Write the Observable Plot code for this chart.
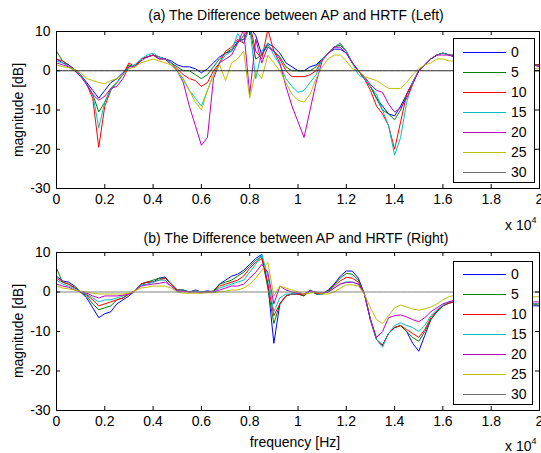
<!DOCTYPE html>
<html><head><meta charset="utf-8">
<script src="https://cdn.jsdelivr.net/npm/d3@7"></script>
<script src="https://cdn.jsdelivr.net/npm/@observablehq/plot@0.6"></script>
<style>
body{margin:0;background:#fff;}
#fig{position:relative;width:541px;height:453px;font-family:"Liberation Sans",Arial,Helvetica,sans-serif;color:#000;overflow:hidden;background:#fff;}
#fig svg{position:absolute;left:0;}
.txt{position:absolute;white-space:nowrap;font-size:14px;line-height:16px;}
.ctr{transform:translateX(-50%);}
.ylab{position:absolute;white-space:nowrap;font-size:14px;line-height:16px;transform:translate(-50%,-50%) rotate(-90deg);}
.legend{position:absolute;border:1px solid #000;background:#fff;box-sizing:border-box;}
.lrow{position:absolute;left:0;height:20px;width:100%;}
.lline{position:absolute;left:9px;width:43px;top:10px;height:1px;}
.llab{position:absolute;left:57px;top:2px;font-size:14px;line-height:16px;}
sup{font-size:9px;vertical-align:7px;line-height:0;}
</style></head><body><div id="fig"></div>
<script>
const FONT = '"Liberation Sans", Arial, Helvetica, sans-serif';

const freqHz = [0,250,500,750,1000,1250,1500,1750,2000,2250,
2500,2750,3000,3250,3500,3750,4000,4250,4500,4750,
5000,5250,5500,5750,6000,6250,6500,6750,7000,7250,
7500,7750,8000,8250,8500,8750,9000,9250,9500,9750,
10000,10250,10500,10750,11000,11250,11500,11750,12000,12250,
12500,12750,13000,13250,13500,13750,14000,14250,14500,14750,
15000,15250,15500,15750,16000,16250,16500,16750,17000,17250,
17500,17750,18000,18250,18500,18750,19000,19250,19500,19750,
20000];

const angleLabels = ["0","5","10","15","20","25","30"];
const lineColors = ["#0000ff","#008000","#ff0000","#00bfbf","#bf00bf","#bfbf00"];
const refColorLeft = "#262626";
const refColorRight = "#808080";
const legendRefColor = "#6e6e6e";

const xTickValues = [0,2000,4000,6000,8000,10000,12000,14000,16000,18000,20000];
const xTickLabels = ["0","0.2","0.4","0.6","0.8","1","1.2","1.4","1.6","1.8","2"];
const yTickValues = [-30,-20,-10,0,10];
const yTickLabels = ["-30","-20","-10","0","10"];

// (a) Left
const left0 = [3,2,1.5,0.3,-1,-3,-5,-7,-5,-3,
-2,-0.5,1,1.5,3,3.5,4,3.5,3,2.5,
1.5,1,1,0.5,-0.5,0.5,2,3.5,4.5,5,
7.5,8,11,9,4,7,6,4.5,2,1,
0,0,1,1.5,3,4.5,5.5,5.5,4.5,2,
0,-2,-4,-7,-9,-11,-11.5,-9,-6,-3,
0,1.5,3,4,4.5,4,3.5,4,3.5,3,
3,3.5,3,2.5,3,2.5,2,2,1.5,1.5,
1.5];
const left5 = [5,2.5,1.5,0.3,-1,-3.5,-6,-10.5,-8,-4.5,
-3,-1,1.5,1,3,3.5,4,3,3,2,
1,0,0,-1,-2,-1,1,3,4.5,5.5,
7,9,11,3,4,6.5,5,3.5,1,0,
0,0,0,1,3,4.5,6,6.5,5,2,
0,-2,-4,-7,-10,-11,-12.5,-10,-6,-3,
0,1.5,3,4,4.5,4,4,3.5,3.5,3,
3,3,3,3,2.5,2.5,2.5,2,2,1.5,
1.5];
const left10 = [3,2.5,1.5,0.3,-1,-3.5,-7,-19.5,-9,-5,
-3,-1,2,1,3,3.5,4,3.5,3,2,
0.5,-1,-2,-2.5,-4,-3,0,2,5,6,
8,7,12,5,3,10.5,5,3,0,-1.5,
-1.5,-1.5,-1,0,3,4.5,6,7,5,2,
0,-2,-5,-9,-11,-14,-20,-13,-6,-3,
0,1.5,3,4,4.5,4,4,3.5,3.5,3,
3,3,3,2.5,2.5,2.5,2,2,2,1.5,
1.5];
const left15 = [2.5,2,1.2,0.2,-1,-3.5,-6,-14.5,-8,-5,
-3,-1,1,1.5,3,4,4.5,3.5,3,2,
0,-2,-5,-7,-9,-5,-1,2,4,5,
9.5,7,11,-2,5,7,4,1.5,-2,-4,
-5.5,-5,-3,-1,3,4.5,6,7,5,2,
-1,-2,-4,-6,-10,-14,-21.5,-17,-8,-3,
0,1.5,3,4,4.5,4,4,3.5,3,3,
3,3,2.5,2.5,2.5,2,2,2,1.5,1.5,
1];
const left20 = [2,1.5,1,0,-1.5,-3.5,-6,-7.5,-6.5,-4.5,
-4,-2,1,1,2.5,3.5,4,3,3,1.5,
0,-3,-9,-14,-19,-17,-2,2,3,4,
7,10.5,-6,8,2,6,5,2,-4,-9,
-13,-17,-10,-3,2.5,4.5,6,6,4.5,2,
0,-1.5,-3.5,-5,-5.5,-8.5,-10.5,-9.5,-7,-3.5,
0,1.5,3,4,4,4,3.5,3.5,3,3,
3,2.5,2.5,2.5,2.5,2,2,2,1.5,1.5,
1];
const left25 = [1.5,1,0.8,0.2,-0.5,-2,-2.5,-3,-3.3,-2.5,
-2,-1,0.5,1,2,2.5,3,2.5,2,1.5,
0,-2.5,-5,-8,-10,-5,-1,1.5,-2.5,2,
3,5,-7,0,-2,4,2,0,-3,-6,
-7.5,-8,-6,-2,1,3,4,4,2.5,0.5,
0,-1.5,-2,-2.5,-3.5,-4.5,-4.5,-4.5,-3,-1,
0.5,1.5,2,3,3,2.5,2.5,2.5,2.5,2,
2,2,2,1.5,1.5,1.5,1,1,1,0.5,
0.5];
const left30 = [0,0,0,0,0,0,0,0,0,0,
0,0,0,0,0,0,0,0,0,0,
0,0,0,0,0,0,0,0,0,0,
0,0,0,0,0,0,0,0,0,0,
0,0,0,0,0,0,0,0,0,0,
0,0,0,0,0,0,0,0,0,0,
0,0,0,0,0,0,0,0,0,0,
0,0,0,0,0,0,0,0,0,0,
0];

// (b) Right
const right0 = [4,2.8,2.5,1.5,0,-1.5,-4,-6.5,-5.5,-5,
-3,-2,-1,0.3,2,2.5,2.5,3.5,3.8,2,
0.5,0.5,0,0.5,0,0.3,0,2,3,4,
4.5,5.5,7,8.5,9.5,2,-13,-3,-1,-0.5,
-0.5,-1,0.5,-0.5,-0.5,0.5,2,4,5.3,5.3,
3.5,-0.5,-7,-12,-13.5,-10.5,-9,-8.5,-10,-13,
-15,-11,-7,-5,-3.5,-2.8,-2.5,-2.5,-2,-2,
-2,-2,-2,-2,-2.5,-2.5,-2.5,-3,-3,-3.5,
-3.5];
const right5 = [6,2.5,2,1.2,0,-1,-3,-4.5,-4,-3.5,
-2,-1.5,-0.5,0.3,2,2.5,3,3.5,3.5,2,
0.5,0.5,0,0.3,0,0,0.3,2,2.5,3,
4,5,6.5,8,9,1,-8,-3,-1,-0.5,
-0.5,-1,0.3,-0.5,-0.5,0.3,1.8,3.5,4.7,4.5,
3,-0.5,-7,-12,-13.5,-10.5,-9,-8.5,-10,-11.5,
-12.5,-10,-7,-5,-3.5,-2.8,-2.5,-2.5,-2,-2,
-2,-2,-2,-2,-2.5,-2.5,-2.5,-3,-3,-3,
-3.5];
const right10 = [3.5,2.5,2,1,0,-0.7,-2,-3.5,-3,-2.5,
-2,-1.5,-0.5,0.3,2,2.5,2.5,3,3.5,2,
0.5,0.3,0,0.3,0,0,0,1.5,2,2.5,
3,4,6,7.5,8.5,2,-6,-3,-1,-0.5,
-0.5,-0.8,0.3,-0.3,-0.3,0,1.5,2.8,3.7,3.5,
2.5,-0.5,-7,-12,-13.5,-10.5,-9,-8.5,-9.5,-10.5,
-11.5,-9.5,-6.5,-4.8,-3.5,-2.8,-2.5,-2.5,-2,-2,
-2,-2,-2,-2,-2,-2.5,-2.5,-2.5,-3,-3,
-3];
const right15 = [3,2,1.5,0.8,0,-0.5,-1.5,-2.5,-2,-2,
-1.5,-1,-0.5,0.3,1.8,2,2.5,3,3,1.5,
0.3,0.3,0,0.3,0,0,0,1,1.5,2,
2.5,3,5,7,9.5,4,-5,-1.5,-0.5,-0.5,
-0.3,-0.5,0.3,0,-0.3,0,1,2,2.6,2.5,
2,-0.5,-7,-12,-14,-10.5,-8.5,-7.8,-8.5,-9,
-10,-8.5,-6,-4.5,-3.3,-2.5,-2.2,-2.2,-2,-2,
-2,-2,-2,-2,-2,-2,-2.5,-2.5,-2.5,-3,
-3];
const right20 = [2,1.5,1.2,0.5,0,-0.3,-1,-1.5,-1,-1,
-1,-0.8,-0.5,0.3,1.5,1.8,2,2.2,2.5,1.5,
0.2,0.2,0,0,-0.2,0,0,0.5,1,1.5,
1.5,2,3.5,5,7,5,-3,1.5,0.5,0,
-0.3,-0.5,0.3,0,-0.3,0,1,2,2.4,2.5,
2,-0.5,-7,-11.5,-10,-6.5,-6,-5.8,-6.3,-7,
-7.5,-6.5,-5,-4,-3,-2.5,-2,-2,-1.8,-1.8,
-1.8,-1.8,-1.8,-1.8,-1.8,-2,-2,-2,-2,-2.5,
-2.5];
const right25 = [1.5,1,0.8,0.5,0.2,0,-0.3,-0.5,-0.5,-0.5,
-0.5,-0.5,-0.3,0.3,1,1.2,1.5,1.5,1.5,1,
0,-0.3,-0.3,-0.3,-0.3,-0.2,-0.2,0,0.2,0.5,
0.5,1,2,3.5,5.5,7.5,-1,1.5,1,0.5,
0,-0.5,-0.3,0,-0.5,-0.5,0,1,1.8,1.8,
1.5,-0.5,-4,-7,-8,-6,-4,-3.3,-3.8,-4.3,
-4.6,-4.3,-3.8,-3,-2,-1.2,-0.8,-0.8,-0.8,-0.8,
-0.8,-0.8,-1,-1,-1,-1,-1,-1,-1,-1.2,
-1.2];
const right30 = [0,0,0,0,0,0,0,0,0,0,
0,0,0,0,0,0,0,0,0,0,
0,0,0,0,0,0,0,0,0,0,
0,0,0,0,0,0,0,0,0,0,
0,0,0,0,0,0,0,0,0,0,
0,0,0,0,0,0,0,0,0,0,
0,0,0,0,0,0,0,0,0,0,
0,0,0,0,0,0,0,0,0,0,
0];

const fig = document.getElementById("fig");

function panel(series, refColor, H, mt, mb) {
  const rows = [];
  series.forEach((vals, k) => vals.forEach((v, i) => rows.push({f: freqHz[i], v: v, s: angleLabels[k]})));
  const fh = H - mt - mb;
  const fw = 541 - 56 - 2;
  const tk = 4;
  return Plot.plot({
    width: 541, height: H,
    marginLeft: 56, marginRight: 2, marginTop: mt, marginBottom: mb,
    style: {fontFamily: FONT, fontSize: "14px", background: "transparent", color: "#000", overflow: "visible"},
    x: {domain: [0, 20000]},
    y: {domain: [-30, 10]},
    color: {domain: angleLabels, range: [...lineColors, refColor]},
    marks: [
      Plot.lineY(rows, {x: "f", y: "v", z: "s", stroke: "s", strokeWidth: 1, clip: true}),
      Plot.tickX(xTickValues, {x: d => d, stroke: "#000", insetTop: fh - tk}),
      Plot.tickX(xTickValues, {x: d => d, stroke: "#000", insetBottom: fh - tk}),
      Plot.tickY(yTickValues, {y: d => d, stroke: "#000", insetRight: fw - tk}),
      Plot.tickY(yTickValues, {y: d => d, stroke: "#000", insetLeft: fw - tk}),
      Plot.axisX(xTickValues, {tickSize: 0, tickPadding: 6, tickFormat: d => xTickLabels[xTickValues.indexOf(d)], label: null}),
      Plot.axisY(yTickValues, {tickSize: 0, tickPadding: 6, tickFormat: d => yTickLabels[yTickValues.indexOf(d)], label: null}),
      Plot.frame({stroke: "#000"})
    ]
  });
}

function addText(html, cls, left, topPx) {
  const d = document.createElement("div");
  d.className = cls;
  d.style.left = left + "px";
  d.style.top = topPx + "px";
  d.innerHTML = html;
  fig.appendChild(d);
  return d;
}

function addLegend(left, topPx, width, height, padTop, rowH) {
  const box = document.createElement("div");
  box.className = "legend";
  box.style.left = left + "px"; box.style.top = topPx + "px";
  box.style.width = width + "px"; box.style.height = height + "px";
  angleLabels.forEach((lab, k) => {
    const row = document.createElement("div");
    row.className = "lrow";
    row.style.top = (padTop + k * rowH - 1) + "px";
    const ln = document.createElement("div");
    ln.className = "lline";
    ln.style.background = (k < lineColors.length ? lineColors[k] : legendRefColor);
    const tx = document.createElement("div");
    tx.className = "llab";
    tx.textContent = lab;
    row.appendChild(ln); row.appendChild(tx);
    box.appendChild(row);
  });
  fig.appendChild(box);
}

const plotLeft = panel([left0, left5, left10, left15, left20, left25, left30], refColorLeft, 215, 31, 27);
plotLeft.style.top = "0px";
fig.appendChild(plotLeft);

const plotRight = panel([right0, right5, right10, right15, right20, right25, right30], refColorRight, 215, 31, 26);
plotRight.style.top = "221px";
fig.appendChild(plotRight);

addText("(a) The Difference between AP and HRTF (Left)", "txt ctr", 296, 7);
addText("(b) The Difference between AP and HRTF (Right)", "txt ctr", 296, 230);
addText("magnitude [dB]", "ylab", 18, 110);
addText("magnitude [dB]", "ylab", 18, 331);
addText("frequency [Hz]", "txt ctr", 295, 434);
addText("x 10<sup>4</sup>", "txt", 505, 217);
addText("x 10<sup>4</sup>", "txt", 505, 438);

addLegend(453, 38, 82, 145, 4, 20);
addLegend(453, 261, 80, 144, 3, 20);
</script></body></html>
